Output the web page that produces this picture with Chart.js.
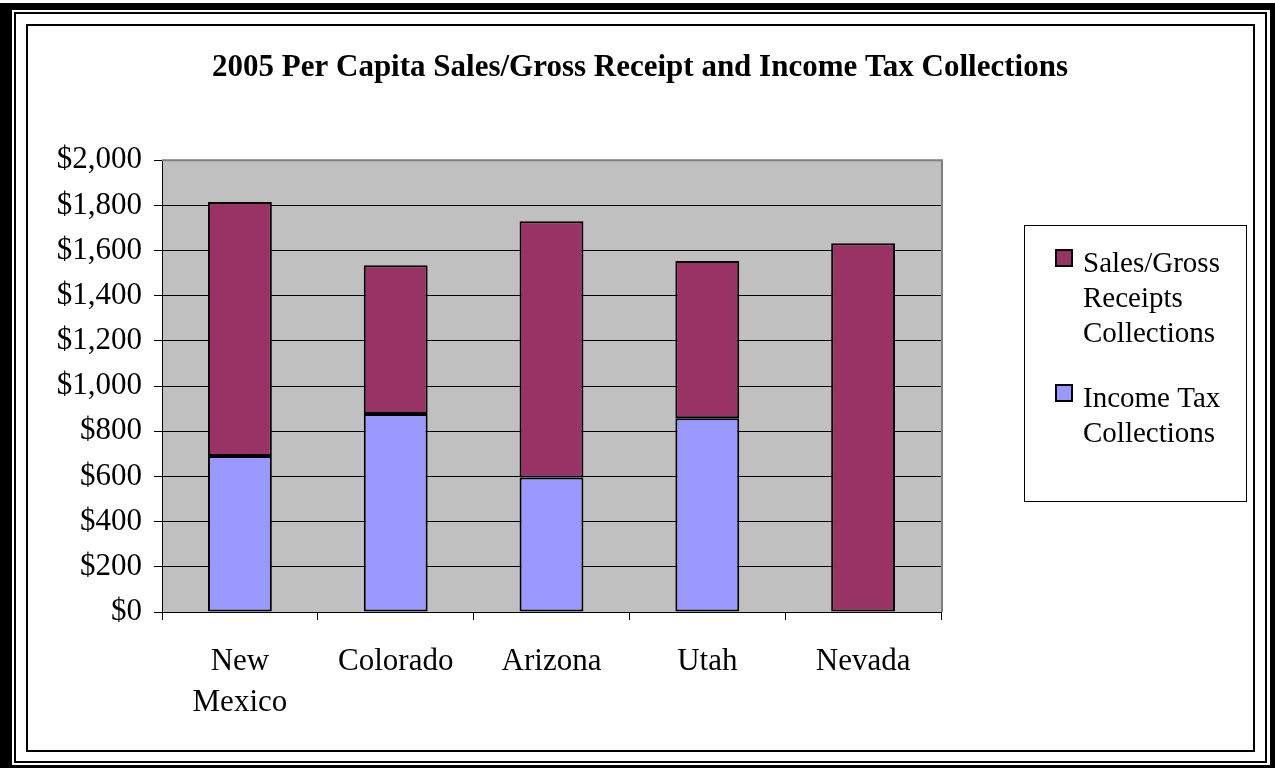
<!DOCTYPE html>
<html>
<head>
<meta charset="utf-8">
<script src="https://cdn.jsdelivr.net/npm/chart.js@4.4.0/dist/chart.umd.min.js"></script>
<style>
    body { margin: 0; background: #fff; }
    #wrap { position: relative; width: 1275px; height: 768px; overflow: hidden; }
    canvas { position: absolute; left: 0; top: 0; }
    .frame { position: absolute; pointer-events: none; box-sizing: border-box; }
</style>
</head>
<body>
<div id="wrap">
    <canvas id="taxChart" width="1275" height="768"></canvas>
    <div class="frame" style="left:0; top:3px; right:0; bottom:0; border-style:solid; border-color:#000; border-width:7px 5px 3px 12px;"></div>
    <div class="frame" style="left:14px; top:12px; right:8px; bottom:5px; border:2px solid #000;"></div>
    <div class="frame" style="left:26px; top:24px; width:1229px; height:728px; border:2px solid #000;"></div>
</div>
<script>
const states = [["New", "Mexico"], "Colorado", "Arizona", "Utah", "Nevada"]
const incomeTax = [691, 877, 595, 858, 0]
const salesGross = [1124, 658, 1135, 696, 1632]
const yTicks = { min: 0, max: 2000, step: 200 }

const titleText = "2005 Per Capita Sales/Gross Receipt and Income Tax Collections"
const salesLabel = ["Sales/Gross", "Receipts", "Collections"]
const incomeLabel = ["Income Tax", "Collections"]

const serif = '"Liberation Serif", "Times New Roman", serif'

// grey plot background plus the grey top/right edge
const plotBackground = {
    id: "plotBackground",
    beforeDraw(chart) {
        const ctx = chart.ctx
        const a = chart.chartArea
        ctx.save()
        ctx.fillStyle = "#c0c0c0"
        ctx.fillRect(a.left, a.top, a.right - a.left, a.bottom - a.top)
        ctx.restore()
    },
    afterDatasetsDraw(chart) {
        const ctx = chart.ctx
        const a = chart.chartArea
        ctx.save()
        ctx.strokeStyle = "#808080"
        ctx.lineWidth = 2
        ctx.beginPath()
        ctx.moveTo(a.left, a.top)
        ctx.lineTo(a.right + 1, a.top)
        ctx.lineTo(a.right + 1, a.bottom)
        ctx.stroke()
        ctx.restore()
    }
}

// legend box on the right, entries in reverse stack order
const sideLegend = {
    id: "sideLegend",
    afterDraw(chart) {
        const ctx = chart.ctx
        ctx.save()
        ctx.fillStyle = "#fff"
        ctx.fillRect(1024, 225, 222, 276)
        ctx.strokeStyle = "#000"
        ctx.lineWidth = 1
        ctx.strokeRect(1024.5, 225.5, 222, 276)

        ctx.font = "29px " + serif
        ctx.textBaseline = "alphabetic"
        ctx.textAlign = "left"

        const items = chart.data.datasets.slice().reverse()
        let baseline = 272
        items.forEach(ds => {
            ctx.fillStyle = ds.backgroundColor
            ctx.fillRect(1056, baseline - 22, 16, 16)
            ctx.strokeStyle = "#000"
            ctx.lineWidth = 2
            ctx.strokeRect(1056, baseline - 22, 16, 16)
            ctx.fillStyle = "#000"
            ds.label.forEach(line => {
                ctx.fillText(line, 1083, baseline)
                baseline += 35
            })
            baseline += 30
        })
        ctx.restore()
    }
}

new Chart(document.getElementById("taxChart"), {
    type: "bar",
    data: {
        labels: states,
        datasets: [{
            label: incomeLabel,
            data: incomeTax,
            backgroundColor: "#9999ff",
            borderColor: "#000",
            borderWidth: 2,
            borderSkipped: false,
            categoryPercentage: 1,
            barPercentage: 0.41
        }, {
            label: salesLabel,
            data: salesGross,
            backgroundColor: "#993366",
            borderColor: "#000",
            borderWidth: 2,
            borderSkipped: false,
            categoryPercentage: 1,
            barPercentage: 0.41
        }]
    },
    options: {
        responsive: false,
        animation: false,
        devicePixelRatio: 1,
        layout: {
            padding: { left: 28, right: 23, top: 28, bottom: 20 }
        },
        plugins: {
            legend: { display: false },
            tooltip: { enabled: false },
            title: {
                display: true,
                text: titleText,
                color: "#000",
                font: { family: serif, size: 31, weight: "bold", lineHeight: 1.2 },
                padding: { top: 21, bottom: 74 }
            }
        },
        scales: {
            x: {
                stacked: true,
                grid: {
                    drawOnChartArea: false,
                    drawTicks: true,
                    tickLength: 8,
                    color: "#000",
                    offset: true
                },
                border: { color: "#000", width: 1 },
                ticks: {
                    color: "#000",
                    padding: 22,
                    maxRotation: 0,
                    autoSkip: false,
                    font: { family: serif, size: 31, lineHeight: 1.3 }
                },
                afterFit: scale => { scale.height = 136 }
            },
            y: {
                stacked: true,
                min: yTicks.min,
                max: yTicks.max,
                grid: {
                    color: ctx => ctx.tick && ctx.tick.value === yTicks.max ? "#808080" : "#000",
                    tickColor: "#000",
                    tickLength: 8,
                    lineWidth: 1
                },
                border: { color: "#000", width: 1 },
                ticks: {
                    stepSize: yTicks.step,
                    color: "#000",
                    padding: 12,
                    font: { family: serif, size: 31 },
                    callback: value => "$" + value.toLocaleString("en-US")
                },
                afterFit: scale => { scale.width = 134 }
            },
            // empty right-hand axis that reserves the room the legend sits in
            side: {
                position: "right",
                min: yTicks.min,
                max: yTicks.max,
                grid: { drawOnChartArea: false, drawTicks: false },
                border: { display: false },
                ticks: { display: false },
                afterFit: scale => { scale.width = 311 }
            }
        }
    },
    plugins: [plotBackground, sideLegend]
})
</script>
</body>
</html>
